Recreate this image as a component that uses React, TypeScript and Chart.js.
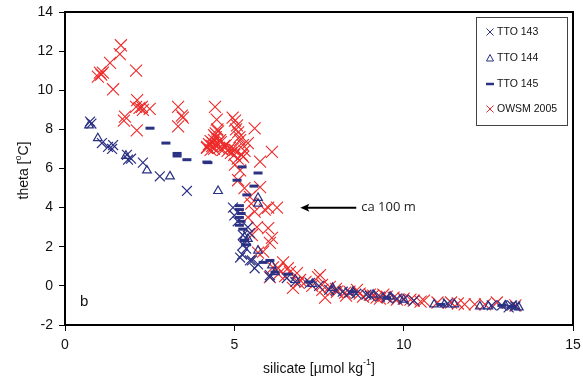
import React, { useEffect, useRef } from "react";
import { Chart, registerables } from "chart.js";

Chart.register(...registerables);

const NAVY = "#2b3183";
const RED = "#ee2a2a";

const xTicks = [0, 5, 10, 15];
const yTicks = [-2, 0, 2, 4, 6, 8, 10, 12, 14];

const tto143: [number, number][] = [
  [0.74, 8.4], [0.78, 8.3], [1.09, 7.3], [1.27, 7.1], [1.39, 7.0], [1.42, 7.2], [1.83, 6.7], [1.86, 6.45],
  [1.95, 6.5], [2.3, 6.3], [2.8, 5.6], [3.6, 4.85], [4.96, 4.0], [5.0, 3.6], [5.1, 3.3], [5.25, 2.6],
  [5.4, 3.0], [5.46, 2.7], [5.26, 2.1], [5.23, 1.6], [5.17, 1.45], [5.46, 1.3], [5.52, 1.3], [5.6, 0.9],
  [6.05, 0.55], [6.05, 0.45], [6.55, 0.4], [7.23, 0.15], [7.8, -0.2], [8.2, -0.3], [8.6, -0.4], [9.0, -0.5],
  [9.5, -0.6], [10.0, -0.7], [11.3, -0.9], [12.9, -1.0], [13.2, -1.0], [13.1, -1.1],
  [6.8, 0.2], [7.5, 0.0], [8.0, -0.25], [8.4, -0.35], [8.9, -0.45], [9.3, -0.55], [9.8, -0.65], [10.3, -0.75],
  [12.6, -1.0], [13.3, -1.05], [5.35, 1.9], [5.7, 1.1],
];

const tto144: [number, number][] = [
  [0.71, 8.2], [0.97, 7.55], [1.8, 6.65], [2.42, 5.9], [3.1, 5.6], [4.52, 4.85], [5.7, 4.5], [5.7, 4.2],
  [5.3, 2.5], [5.4, 2.4], [5.35, 2.2], [5.7, 1.8], [6.11, 1.05], [6.2, 0.7], [6.8, 0.3], [7.3, 0.1],
  [7.9, -0.1], [8.5, -0.3], [9.1, -0.45], [9.6, -0.55], [10.0, -0.7], [10.9, -0.95], [11.2, -0.95],
  [11.5, -0.95], [12.25, -1.05], [12.5, -1.05], [13.0, -1.0], [13.3, -1.05], [13.4, -1.1],
];

const tto145: [number, number][] = [
  [2.51, 8.06], [2.98, 7.3], [3.31, 6.77], [3.31, 6.64], [3.6, 6.45], [4.19, 6.33], [4.22, 6.3], [5.23, 6.08],
  [5.7, 5.77], [5.08, 5.4], [5.58, 5.1], [5.37, 4.65], [5.15, 4.1], [5.15, 3.9], [5.2, 3.7], [5.15, 3.5],
  [5.2, 3.3], [5.15, 3.1], [5.25, 2.9], [5.3, 2.3], [5.35, 2.1], [6.05, 1.3], [6.2, 0.7], [5.85, 1.2],
  [6.6, 0.6], [7.2, 0.2], [8.5, -0.3], [9.5, -0.6], [11.1, -0.95], [12.9, -1.0], [13.2, -1.05],
];

const owsm2005: [number, number][] = [
  [1.65, 12.3], [1.62, 11.85], [1.33, 11.4], [1.03, 10.9], [1.12, 10.9], [0.97, 10.7], [1.07, 10.8], [2.1, 11.0],
  [1.42, 10.05], [2.13, 9.5], [2.1, 9.15], [2.27, 9.15], [2.5, 9.05], [2.3, 9.0], [2.2, 9.1], [1.77, 8.65],
  [1.74, 8.45], [2.12, 7.95], [3.34, 9.15], [3.48, 8.6], [3.45, 8.7], [3.34, 8.15], [4.43, 9.15], [4.48, 8.5],
  [4.52, 7.9], [4.28, 7.2], [4.37, 7.3], [4.19, 7.05], [4.3, 7.4], [4.4, 7.0], [4.5, 7.3], [4.45, 7.6],
  [4.58, 7.45], [4.66, 6.95], [4.87, 7.05], [4.75, 7.2], [4.95, 7.0], [5.02, 8.45], [5.08, 8.2], [5.11, 7.85],
  [5.17, 7.45], [5.02, 6.95], [5.22, 6.7], [5.3, 6.9], [5.4, 7.3], [5.6, 8.05], [6.11, 6.85], [5.26, 6.6],
  [5.76, 6.35], [5.02, 6.2], [5.17, 5.9], [5.11, 5.4], [5.76, 5.05], [5.46, 4.55], [6.0, 4.0], [6.26, 4.0],
  [5.6, 3.8], [5.4, 3.5], [5.67, 3.0], [6.0, 2.95], [5.52, 2.6], [6.11, 2.45], [6.05, 2.2], [5.85, 1.75],
  [5.7, 1.7], [6.44, 1.2], [6.3, 0.9], [6.58, 0.9], [6.64, 0.7], [6.85, 0.65], [7.53, 0.55], [6.14, 0.95],
  [6.05, 0.45], [6.94, 0.3], [6.73, -0.1], [7.47, 0.45], [7.59, 0.05], [7.82, -0.05], [7.68, -0.6], [8.03, -0.3],
  [8.27, -0.35], [8.62, -0.2], [8.8, -0.55], [9.0, -0.45], [9.2, -0.6], [9.5, -0.55], [9.8, -0.7], [10.2, -0.7],
  [10.5, -0.8], [11.4, -0.85], [11.8, -0.95], [12.1, -0.95], [12.75, -0.85], [8.3, -0.5], [9.3, -0.65], [10.6, -0.75],
  [4.2, 7.1], [4.25, 7.25], [4.35, 7.15], [4.45, 7.2], [4.55, 7.05], [4.6, 7.35], [4.4, 7.45], [4.3, 6.95],
  [4.7, 7.15], [4.8, 6.9], [4.9, 6.8], [5.0, 6.7], [5.1, 6.5], [4.45, 7.8], [4.5, 8.0], [4.4, 7.7],
  [4.95, 8.6], [5.05, 8.0], [5.15, 7.6], [5.25, 7.2], [5.5, 4.2], [5.9, 3.9], [5.3, 5.0],
  [6.3, 0.6], [6.5, 0.5], [6.9, 0.15], [7.1, 0.2], [7.3, 0.0], [7.6, -0.2], [8.0, -0.15], [8.4, -0.3],
  [8.7, -0.4], [9.1, -0.5], [9.4, -0.45], [9.7, -0.6], [10.0, -0.65], [10.3, -0.75], [11.0, -0.85], [11.6, -0.9],
  [12.4, -0.95], [13.3, -1.0],
];

const seriesNames = ["TTO 143", "TTO 144", "TTO 145", "OWSM 2005"];
const annotationText = "ca 100 m";
const arrowFrom = [8.6, 4.0];
const arrowTo = [6.95, 4.0];
const panelLabel = "b";

const toPts = (a: [number, number][]) => a.map(([x, y]) => ({ x, y }));

const FONT = "Arial, 'Liberation Sans', sans-serif";

const decorPlugin = {
  id: "decor",
  afterDraw(chart: any) {
    const { ctx, chartArea: ca, scales } = chart;
    const xs = scales.x, ys = scales.y;
    ctx.save();
    ctx.strokeStyle = "#000";
    ctx.lineWidth = 2;
    ctx.strokeRect(ca.left, ca.top, ca.right - ca.left, ca.bottom - ca.top);

    ctx.fillStyle = "#111";
    ctx.save();
    ctx.translate(24, (ca.top + ca.bottom) / 2 + 2);
    ctx.rotate(-Math.PI / 2);
    const p1 = "theta [", p2 = "o", p3 = "C]";
    ctx.font = `14px ${FONT}`;
    const w1 = ctx.measureText(p1).width;
    ctx.font = `9px ${FONT}`;
    const w2 = ctx.measureText(p2).width;
    ctx.font = `14px ${FONT}`;
    const w3 = ctx.measureText(p3).width;
    const sx = -(w1 + w2 + w3) / 2;
    ctx.textBaseline = "middle";
    ctx.textAlign = "left";
    ctx.fillText(p1, sx, 0);
    ctx.font = `9px ${FONT}`;
    ctx.fillText(p2, sx + w1, -5);
    ctx.font = `14px ${FONT}`;
    ctx.fillText(p3, sx + w1 + w2, 0);
    ctx.restore();

    {
      const a = "silicate [\u00b5mol kg", b = "-1", c = "]";
      ctx.font = `14px ${FONT}`;
      const wa = ctx.measureText(a).width;
      ctx.font = `9px ${FONT}`;
      const wb = ctx.measureText(b).width;
      ctx.font = `14px ${FONT}`;
      const wc = ctx.measureText(c).width;
      const cx = (ca.left + ca.right) / 2;
      const x0 = cx - (wa + wb + wc) / 2;
      const y0 = 369;
      ctx.textBaseline = "middle";
      ctx.textAlign = "left";
      ctx.fillText(a, x0, y0);
      ctx.font = `9px ${FONT}`;
      ctx.fillText(b, x0 + wa, y0 - 6);
      ctx.font = `14px ${FONT}`;
      ctx.fillText(c, x0 + wa + wb, y0);
    }

    ctx.font = `15px ${FONT}`;
    ctx.textAlign = "left";
    ctx.textBaseline = "middle";
    ctx.fillStyle = "#111";
    ctx.fillText(panelLabel, ca.left + 15, ca.bottom - 23);

    const ax1 = xs.getPixelForValue(arrowFrom[0]);
    const ay1 = ys.getPixelForValue(arrowFrom[1]);
    const ax2 = xs.getPixelForValue(arrowTo[0]);
    const ay2 = ys.getPixelForValue(arrowTo[1]);
    ctx.strokeStyle = "#000";
    ctx.lineWidth = 2;
    ctx.beginPath();
    ctx.moveTo(ax1, ay1);
    ctx.lineTo(ax2 + 6, ay2);
    ctx.stroke();
    ctx.fillStyle = "#000";
    ctx.beginPath();
    ctx.moveTo(ax2, ay2);
    ctx.lineTo(ax2 + 9, ay2 - 4);
    ctx.lineTo(ax2 + 7, ay2);
    ctx.lineTo(ax2 + 9, ay2 + 4);
    ctx.closePath();
    ctx.fill();
    ctx.font = `13px 'Open Sans', ${FONT}`;
    ctx.fillStyle = "#222";
    ctx.textAlign = "left";
    ctx.textBaseline = "middle";
    ctx.fillText(annotationText, ax1 + 5, ay1);

    const lx = 476, ly = 17, lw = 91, lh = 108;
    ctx.fillStyle = "#fff";
    ctx.fillRect(lx, ly, lw, lh);
    ctx.strokeStyle = "#444";
    ctx.lineWidth = 1;
    ctx.strokeRect(lx + 0.5, ly + 0.5, lw, lh);
    const rows = [32, 58, 84, 109];
    const mx = 490;
    rows.forEach((ry, i) => {
      ctx.lineWidth = 1;
      if (i === 0 || i === 3) {
        ctx.strokeStyle = i === 0 ? NAVY : RED;
        ctx.beginPath();
        ctx.moveTo(mx - 3.5, ry - 3.5);
        ctx.lineTo(mx + 3.5, ry + 3.5);
        ctx.moveTo(mx + 3.5, ry - 3.5);
        ctx.lineTo(mx - 3.5, ry + 3.5);
        ctx.stroke();
      } else if (i === 1) {
        ctx.strokeStyle = NAVY;
        ctx.beginPath();
        ctx.moveTo(mx, ry - 3.5);
        ctx.lineTo(mx + 3.5, ry + 3);
        ctx.lineTo(mx - 3.5, ry + 3);
        ctx.closePath();
        ctx.stroke();
      } else {
        ctx.strokeStyle = NAVY;
        ctx.lineWidth = 2.5;
        ctx.beginPath();
        ctx.moveTo(mx - 4, ry);
        ctx.lineTo(mx + 4, ry);
        ctx.stroke();
      }
      ctx.fillStyle = "#111";
      ctx.font = `10.5px ${FONT}`;
      ctx.textAlign = "left";
      ctx.textBaseline = "middle";
      ctx.fillText(seriesNames[i], 497, ry + 0.5);
    });
    ctx.restore();
  },
};

export default function App() {
  const ref = useRef<HTMLCanvasElement | null>(null);
  useEffect(() => {
    if (!ref.current) return;
    const chart = new Chart(ref.current, {
      type: "scatter",
      data: {
        datasets: [
          {
            label: seriesNames[0],
            data: toPts(tto143),
            pointStyle: "crossRot",
            pointRadius: 7,
            borderColor: NAVY,
            backgroundColor: NAVY,
            pointBorderWidth: 1.2,
          },
          {
            label: seriesNames[1],
            data: toPts(tto144),
            pointStyle: "triangle",
            pointRadius: 5,
            borderColor: NAVY,
            backgroundColor: "rgba(0,0,0,0)",
            pointBorderWidth: 1.2,
          },
          {
            label: seriesNames[2],
            data: toPts(tto145),
            pointStyle: "line",
            pointRadius: 4.5,
            borderColor: NAVY,
            backgroundColor: NAVY,
            pointBorderWidth: 3,
          },
          {
            label: seriesNames[3],
            data: toPts(owsm2005),
            pointStyle: "crossRot",
            pointRadius: 8.5,
            borderColor: RED,
            backgroundColor: RED,
            pointBorderWidth: 1.1,
          },
        ],
      },
      options: {
        animation: false,
        responsive: false,
        maintainAspectRatio: false,
        layout: { padding: { left: 0, right: 10, top: 12, bottom: 0 } },
        plugins: { legend: { display: false }, tooltip: { enabled: false } },
        scales: {
          x: {
            type: "linear",
            min: 0,
            max: 15,
            afterBuildTicks: (s: any) => { s.ticks = xTicks.map((v) => ({ value: v })); },
            afterFit: (s: any) => { s.height = 66; s.paddingLeft = 0; s.paddingRight = 0; },
            ticks: { color: "#111", font: { family: FONT, size: 14 }, padding: 6 },
            grid: { drawOnChartArea: false, drawTicks: true, tickLength: 6, color: "#000", lineWidth: 1 },
            border: { color: "#000", width: 2 },
          },
          y: {
            type: "linear",
            min: -2,
            max: 14,
            afterBuildTicks: (s: any) => { s.ticks = yTicks.map((v) => ({ value: v })); },
            afterFit: (s: any) => { s.width = 65; s.paddingTop = 0; s.paddingBottom = 0; },
            ticks: { color: "#111", font: { family: FONT, size: 14 }, padding: 6 },
            grid: { drawOnChartArea: false, drawTicks: true, tickLength: 6, color: "#000", lineWidth: 1 },
            border: { color: "#000", width: 2 },
          },
        },
      },
      plugins: [decorPlugin],
    });
    return () => chart.destroy();
  }, []);
  return (
    <div style={{ position: "fixed", left: 0, top: 0, width: 583, height: 391, background: "#fff" }}>
      <canvas ref={ref} width={583} height={391} style={{ width: 583, height: 391, display: "block" }} />
    </div>
  );
}
